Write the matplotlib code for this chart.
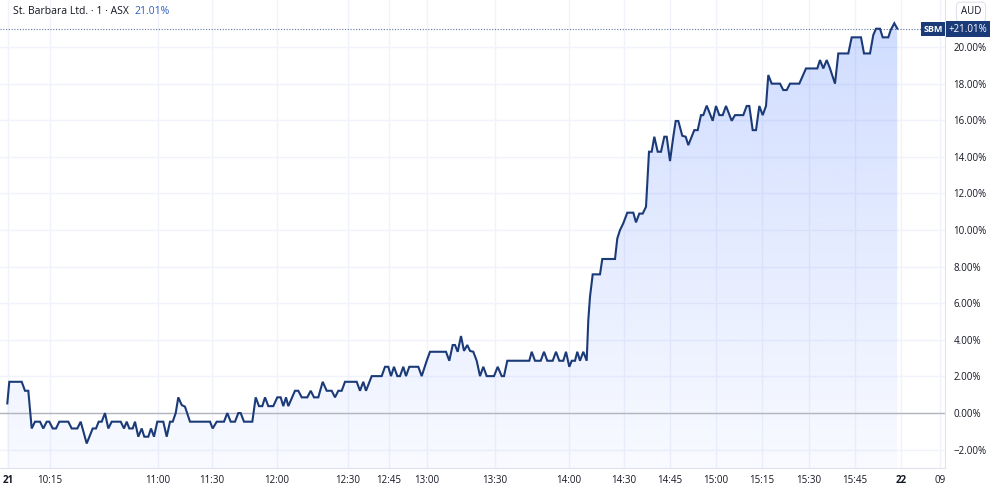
import numpy as np
import matplotlib
matplotlib.use("Agg")
import matplotlib.pyplot as plt
from matplotlib.colors import to_rgb

# St. Barbara (SBM.AX) intraday, % change vs previous close, on the bar-index axis
bar_pos = [7.3, 9.3, 21.7, 25.0, 28.3, 31.7, 35.0, 40.0, 43.3, 46.7, 49.3, 52.7, 56.0, 59.3,
           68.3, 71.7, 77.3, 80.7, 86.7, 92.7, 96.0, 98.7, 101.7, 105.0, 108.3, 111.7, 120.7,
           124.0, 126.7, 129.3, 132.7, 135.0, 138.3, 141.7, 144.3, 148.3, 151.0, 154.0, 157.3,
           163.3, 166.7, 170.0, 172.7, 175.7, 178.3, 181.7, 185.0, 190.0, 210.0, 212.7, 216.7,
           224.0, 227.3, 230.7, 235.0, 238.3, 240.7, 244.0, 252.3, 255.7, 259.0, 262.3, 265.0,
           268.3, 273.3, 277.3, 280.7, 283.3, 286.0, 288.3, 295.0, 298.3, 301.7, 307.3, 310.7,
           314.0, 318.3, 322.7, 326.7, 331.7, 335.0, 338.3, 341.7, 345.0, 356.7, 360.0, 363.3,
           366.0, 371.7, 381.7, 385.0, 388.3, 391.0, 394.0, 397.3, 400.0, 403.3, 406.0, 409.3,
           418.3, 421.7, 426.7, 430.0, 446.0, 449.3, 452.7, 455.0, 457.7, 461.0, 464.0, 467.3,
           470.0, 473.3, 476.7, 480.0, 483.3, 486.7, 494.0, 497.7, 501.7, 504.0, 507.3, 529.3,
           531.7, 535.0, 540.7, 544.0, 547.3, 552.7, 556.0, 559.3, 563.3, 566.0, 569.3, 571.7,
           575.0, 577.3, 580.0, 583.3, 586.7, 588.3, 590.0, 592.7, 600.0, 602.3, 615.0, 617.3,
           620.0, 623.3, 627.3, 633.3, 636.0, 639.3, 642.7, 646.0, 649.0, 651.7, 654.3, 657.7,
           661.0, 664.3, 666.7, 670.0, 673.3, 675.7, 678.3, 682.3, 685.7, 688.3, 691.7, 694.3,
           697.7, 701.0, 703.3, 706.7, 712.7, 716.0, 719.3, 722.7, 726.0, 731.7, 735.0, 743.3,
           746.7, 749.3, 752.7, 756.0, 759.3, 762.7, 766.0, 768.3, 771.7, 780.0, 783.3, 786.7,
           790.0, 799.3, 806.0, 817.3, 820.0, 823.3, 826.7, 830.0, 835.0, 838.3, 848.3, 851.7,
           861.0, 864.0, 870.0, 873.3, 876.0, 880.0, 882.7, 888.3, 890.7, 894.3, 897.3]
pct_change = [0.53, 1.71, 1.71, 1.22, 1.22, -0.84, -0.47, -0.47, -0.84, -0.47, -0.47, -0.84, -0.84, -0.47,
              -0.47, -0.84, -0.84, -0.47, -1.66, -0.84, -0.84, -0.47, -0.47, 0.0, -0.84, -0.47, -0.47,
              -0.84, -0.47, -0.84, -0.84, -0.47, -1.29, -0.84, -1.29, -1.29, -0.84, -1.29, -0.47,
              -0.47, -1.29, -0.47, -0.47, 0.0, 0.86, 0.44, 0.35, -0.47, -0.47, -0.84, -0.47,
              -0.47, 0.0, -0.47, -0.47, 0.0, 0.0, -0.47, -0.47, 0.86, 0.38, 0.38, 0.86,
              0.38, 0.38, 0.86, 0.86, 0.38, 0.86, 0.38, 1.22, 1.22, 0.86, 0.86, 1.22,
              0.86, 0.86, 1.71, 1.22, 1.22, 0.86, 1.22, 1.22, 1.71, 1.71, 1.22, 1.71,
              1.22, 2.02, 2.02, 2.53, 2.53, 2.02, 2.53, 2.02, 2.02, 2.53, 2.02, 2.53,
              2.53, 2.02, 2.86, 3.35, 3.35, 2.86, 3.72, 3.72, 3.35, 4.21, 3.40, 3.72,
              3.40, 3.35, 2.86, 2.02, 2.53, 2.02, 2.02, 2.53, 2.02, 2.02, 2.86, 2.86,
              3.35, 2.86, 2.86, 3.35, 2.86, 2.86, 3.35, 2.86, 2.86, 3.35, 2.53, 2.86,
              2.86, 3.35, 2.86, 3.35, 2.86, 5.08, 6.36, 7.58, 7.58, 8.42, 8.42, 9.54,
              10.0, 10.37, 10.95, 10.95, 10.42, 10.90, 10.90, 11.27, 14.28, 14.28, 15.10, 14.28,
              14.28, 15.10, 15.10, 13.77, 15.10, 15.96, 15.96, 15.15, 15.10, 14.64, 15.10, 15.46,
              15.46, 16.28, 16.28, 16.80, 15.97, 16.78, 16.28, 16.28, 16.78, 15.97, 16.28, 16.28,
              16.78, 16.78, 15.46, 15.46, 16.78, 16.28, 16.78, 18.47, 18.0, 18.0, 17.65, 17.65,
              18.0, 18.0, 18.83, 18.83, 19.29, 18.83, 19.29, 18.83, 18.0, 19.65, 19.65, 20.53,
              20.53, 19.65, 19.65, 20.66, 21.0, 21.0, 20.53, 20.53, 20.93, 21.30, 21.01]

last_pct = 21.01
time_ticks = [8, 50, 158, 212, 277, 348, 389, 427, 495, 569, 624, 670, 716, 762, 809, 855, 901, 940]
time_labels = ["21", "10:15", "11:00", "11:30", "12:00", "12:30", "12:45", "13:00", "13:30",
               "14:00", "14:30", "14:45", "15:00", "15:15", "15:30", "15:45", "22", "09"]
pct_ticks = [-2, 0, 2, 4, 6, 8, 10, 12, 14, 16, 18, 20]

line_col = "#1b3a78"
text_col = "#131722"
grid_col = "#f0f3fa"
border_col = "#e0e3eb"

plt.rcParams["font.family"] = ["Open Sans", "DejaVu Sans"]

fig = plt.figure(figsize=(10, 4.91), dpi=100)
ax = fig.add_axes([0, 23 / 491, 0.945, 468 / 491])
xmax = 945
ymin, ymax = -3.0, 22.57

# gradient area under the line
poly = ax.fill_between(bar_pos, pct_change, ymin, color="none", lw=0)
top_col = np.array(to_rgb("#2962ff"))
grad = np.zeros((256, 1, 4))
grad[:, 0, :3] = top_col
grad[:, 0, 3] = np.linspace(0.03, 0.22, 256)
im = ax.imshow(grad, extent=[0, xmax, ymin, max(pct_change)], origin="lower",
               aspect="auto", zorder=1)
im.set_clip_path(poly.get_paths()[0], transform=ax.transData)
ax.set_xlim(0, xmax)
ax.set_ylim(ymin, ymax)

ax.axhline(0, color="#b2b5be", lw=1, zorder=2)
ax.plot(bar_pos, pct_change, color=line_col, lw=1.5, zorder=3, solid_joinstyle="miter")
ax.axhline(last_pct, color=line_col, lw=0.8, ls=(0, (1, 1.5)), zorder=2, alpha=0.7)

ax.set_xticks(time_ticks)
ax.set_xticklabels(time_labels)
for lbl in ax.get_xticklabels():
    if lbl.get_text() in ("21", "22"):
        lbl.set_fontweight("bold")
ax.set_yticks(pct_ticks)
ax.set_yticklabels(["\u2212%.2f%%" % -v if v < 0 else "%.2f%%" % v for v in pct_ticks])
ax.yaxis.tick_right()
ax.tick_params(axis="both", length=0, labelsize=7, colors=text_col)
ax.tick_params(axis="x", pad=5)
ax.tick_params(axis="y", pad=6)
ax.grid(True, color=grid_col, lw=1, zorder=0)
ax.set_axisbelow(True)
for side in ("top", "left"):
    ax.spines[side].set_visible(False)
ax.spines["bottom"].set_color(border_col)
ax.spines["right"].set_color(border_col)

# header
head = fig.text(13 / 1000, 1 - 11 / 491, "St. Barbara Ltd. \u00b7 1 \u00b7 ASX", ha="left", va="center",
                fontsize=7.5, color=text_col)
fig.canvas.draw()
ax.annotate("21.01%", xy=(1, 0.5), xycoords=head, xytext=(4, 0), textcoords="offset points",
            ha="left", va="center", fontsize=7.5, color="#2f5ec4")

# price scale labels
fig.text(971 / 1000, 1 - 12 / 491, "AUD", ha="center", va="center", fontsize=7, color=text_col,
         bbox=dict(boxstyle="round,pad=0.45", fc="white", ec=border_col, lw=0.8))
fig.text(933 / 1000, 1 - 29 / 491, "SBM", ha="center", va="center", fontsize=6.5, color="white",
         fontweight="bold", bbox=dict(boxstyle="square,pad=0.25", fc=line_col, ec="none"))
fig.text(968 / 1000, 1 - 29 / 491, "+21.01%", ha="center", va="center", fontsize=7, color="white",
         bbox=dict(boxstyle="square,pad=0.25", fc=line_col, ec="none"))

fig.savefig("out.png", dpi=100, facecolor="white")
